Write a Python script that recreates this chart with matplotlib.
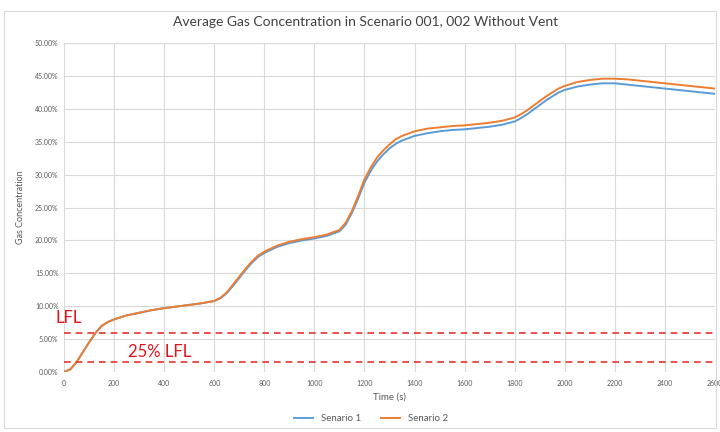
import matplotlib
matplotlib.use("Agg")
import matplotlib.pyplot as plt
from matplotlib.ticker import FuncFormatter, MultipleLocator
from matplotlib.patches import Rectangle

plt.rcParams['font.family'] = ['Lato', 'DejaVu Sans']

time_s = [0, 25, 50, 75, 100, 125, 150, 175, 200, 250, 300, 350, 400, 450, 500, 550, 600,
          625, 650, 675, 700, 725, 750, 775, 800, 850, 900, 950, 1000, 1050, 1100, 1125,
          1150, 1175, 1200, 1225, 1250, 1275, 1300, 1325, 1350, 1400, 1450, 1500, 1550,
          1600, 1650, 1700, 1750, 1800, 1825, 1850, 1875, 1900, 1925, 1950, 1975, 2000,
          2050, 2100, 2150, 2200, 2250, 2300, 2350, 2400, 2450, 2500, 2550, 2600]

senario1 = [0.0, 0.4, 1.5, 3.0, 4.5, 5.9, 7.0, 7.6, 8.0, 8.6, 9.0, 9.4, 9.7, 9.95, 10.2, 10.45, 10.8,
            11.2, 12.0, 13.1, 14.3, 15.5, 16.6, 17.5, 18.1, 19.0, 19.6, 20.0, 20.3, 20.7, 21.4, 22.4,
            24.2, 26.4, 28.8, 30.6, 32.0, 33.1, 34.0, 34.7, 35.2, 35.9, 36.3, 36.6, 36.8,
            36.9, 37.1, 37.3, 37.6, 38.1, 38.6, 39.2, 39.9, 40.6, 41.3, 41.9, 42.5, 42.9,
            43.4, 43.7, 43.9, 43.9, 43.7, 43.5, 43.3, 43.1, 42.9, 42.7, 42.5, 42.3]

senario2 = [0.0, 0.4, 1.5, 3.0, 4.5, 5.9, 7.0, 7.6, 8.0, 8.6, 9.0, 9.4, 9.7, 9.95, 10.2, 10.45, 10.8,
            11.3, 12.1, 13.3, 14.5, 15.7, 16.8, 17.7, 18.3, 19.2, 19.8, 20.2, 20.5, 20.9, 21.6, 22.7,
            24.5, 26.8, 29.3, 31.1, 32.6, 33.7, 34.6, 35.4, 35.9, 36.6, 37.0, 37.2, 37.4,
            37.5, 37.7, 37.9, 38.2, 38.7, 39.2, 39.8, 40.5, 41.2, 41.9, 42.5, 43.1, 43.5,
            44.1, 44.4, 44.6, 44.6, 44.5, 44.3, 44.1, 43.9, 43.7, 43.5, 43.3, 43.1]

lfl = 6.0
lfl25 = 1.5

series_labels = ["Senario 1", "Senario 2"]
title = "Average Gas Concentration in Scenario 001, 002 Without Vent"

fig = plt.figure(figsize=(7.2, 4.32), dpi=100)
fig.patches.append(Rectangle((0.006, 0.01), 0.988, 0.965, transform=fig.transFigure,
                             fill=False, edgecolor='#d9d9d9', lw=0.8))
ax = fig.add_axes([0.089, 0.139, 0.904, 0.761])

ax.plot(time_s, [v / 100 for v in senario1], color='#5B9BD5', lw=1.4, label=series_labels[0])
ax.plot(time_s, [v / 100 for v in senario2], color='#ED7D31', lw=1.4, label=series_labels[1])

ax.axhline(lfl / 100, color='#e8322f', ls=(0, (4, 3)), lw=1.2)
ax.axhline(lfl25 / 100, color='#e8322f', ls=(0, (4, 3)), lw=1.2)
ax.text(-35, 0.07, "LFL", color='#e8101a', fontsize=12, ha='left', va='bottom', clip_on=False)
ax.text(255, 0.0175, "25% LFL", color='#e8101a', fontsize=12, ha='left', va='bottom')

ax.set_xlim(0, 2600)
ax.set_ylim(0, 0.5)
ax.xaxis.set_major_locator(MultipleLocator(200))
ax.yaxis.set_major_locator(MultipleLocator(0.05))
ax.yaxis.set_major_formatter(FuncFormatter(lambda v, p: f"{v*100:.2f}%"))
ax.grid(True, color='#d9d9d9', lw=0.8)
ax.set_axisbelow(True)
for s in ax.spines.values():
    s.set_visible(False)
ax.tick_params(axis='y', length=0, labelsize=5, colors='#595959', pad=4)
ax.tick_params(axis='x', length=0, labelsize=5, colors='#595959', pad=6)

ax.set_xlabel("Time (s)", fontsize=7, color='#595959', labelpad=4)
ax.set_ylabel("Gas Concentration", fontsize=6.5, color='#595959')
ax.yaxis.set_label_coords(-0.06, 0.5)
fig.text(0.508, 0.948, title, fontsize=10, color='#404040', ha='center', va='center')

fig.legend(loc='lower center', bbox_to_anchor=(0.515, 0.0), ncol=2, frameon=False,
           fontsize=7, labelcolor='#595959', handlelength=2, columnspacing=2)

fig.savefig("out.png", dpi=100)
